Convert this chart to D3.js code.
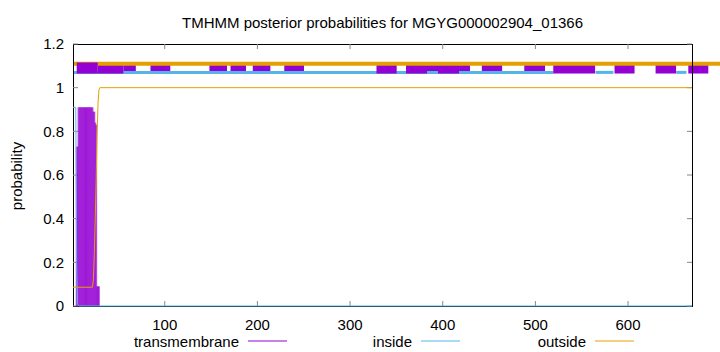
<!DOCTYPE html>
<html>
<head>
<meta charset="utf-8">
<script src="https://cdn.jsdelivr.net/npm/d3@7/dist/d3.min.js"></script>
<style>
  body { margin: 0; background: #fff; }
  text { font-family: "Liberation Sans", Arial, sans-serif; font-size: 15px; fill: #000; }
</style>
</head>
<body>
<svg id="chart" width="720" height="352"></svg>
<script>
// Posterior probabilities (only the N-terminal part is non-trivial)
const tmResidues = [1, 2, 3, 4, 5, 6, 7, 8, 9, 10, 11, 12, 13, 14, 15, 16, 17, 18, 19, 20,
                    21, 22, 23, 24, 25, 26, 27, 28, 29, 30]
const tmValues = [0, 0, 0, 0, 0.73, 0.73, 0.91, 0.91, 0.91, 0.91, 0.91, 0.91, 0.91, 0.91, 0.91, 0.91,
                  0.91, 0.91, 0.91, 0.91, 0.91, 0.91, 0.89, 0.89, 0.84, 0.83, 0.09, 0.09, 0.09, 0]
const insideResidues = [1, 4, 5, 6, 7, 669]
const insideValues = [0.91, 0.91, 0.18, 0.01, 0, 0]
const outsideResidues = [1, 22, 23, 24, 25, 26, 27, 28, 29, 30, 669]
const outsideValues = [0.086, 0.086, 0.12, 0.24, 0.4, 0.58, 0.78, 0.93, 0.99, 1.0, 1.0]

// Predicted topology drawn above the curves
const tmSegStart = [5, 27.7, 55.3, 84.6, 148.2, 171, 195, 229, 328.5, 360.4, 383, 394.9, 417.6,
                    442.2, 488, 519.3, 585.4, 629.7, 665]
const tmSegEnd = [27.7, 55.3, 68.8, 106, 167.2, 187.7, 214, 250.3, 350.3, 383, 394.9, 417.6, 429.4,
                  464.1, 510.4, 564.4, 607, 651.8, 686.6]
// 0: under both lines, 1: over inside line, 2: over both
const tmSegLayer = [2, 1, 0, 0, 0, 0, 0, 0, 1, 1, 0, 1, 0, 0, 0, 1, 1, 1, 1]
const insideSegStart = [1, 565, 652]
const insideSegEnd = [519.5, 584.2, 663]
const outsideSegStart = [1]
const outsideSegEnd = [700]

const xTicks = [100, 200, 300, 400, 500, 600]
const yTicks = [0, 0.2, 0.4, 0.6, 0.8, 1, 1.2]

const colors = { tm: "#9400d3", inside: "#56b4e9", outside: "#e69f00" }
const plotLeft = 73, plotRight = 692, plotTop = 44, plotBottom = 306

const svg = d3.select("#chart")
const x = d3.scaleLinear().domain([1, 669]).range([plotLeft, plotRight])
const y = d3.scaleLinear().domain([0, 1.2]).range([plotBottom, plotTop])

// title + axis label
svg.append("text").attr("x", (plotLeft + plotRight) / 2).attr("y", 27.5)
    .attr("text-anchor", "middle").text("TMHMM posterior probabilities for MGYG000002904_01366")
svg.append("text").attr("transform", "translate(22,176) rotate(-90)")
    .attr("text-anchor", "middle").text("probability")

// topology band
const tmSegs = tmSegStart.map((s, i) => ({ s: s, e: tmSegEnd[i], layer: tmSegLayer[i] }))
function drawBoxes(layer) {
    svg.append("g").selectAll("rect")
        .data(tmSegs.filter(d => d.layer === layer))
        .enter().append("rect")
            .attr("x", d => x(d.s))
            .attr("width", d => x(d.e) - x(d.s))
            .attr("y", y(1.09) - 5.5)
            .attr("height", 11)
            .attr("fill", colors.tm)
}
function drawSegs(starts, ends, val, color, w) {
    svg.append("g").selectAll("line")
        .data(starts.map((s, i) => [s, ends[i]]))
        .enter().append("line")
            .attr("x1", d => x(d[0])).attr("x2", d => x(d[1]))
            .attr("y1", y(val)).attr("y2", y(val))
            .attr("stroke", color).attr("stroke-width", w)
}
drawBoxes(0)
drawSegs(insideSegStart, insideSegEnd, 1.07, colors.inside, 3)
drawBoxes(1)
drawSegs(outsideSegStart, outsideSegEnd, 1.11, colors.outside, 4)
drawBoxes(2)

// frame and ticks
svg.append("rect").attr("x", plotLeft + 0.5).attr("y", plotTop + 0.5)
    .attr("width", plotRight - plotLeft).attr("height", plotBottom - plotTop)
    .attr("fill", "none").attr("stroke", "#000")

const ticks = svg.append("g").attr("stroke", "#888")
xTicks.forEach(t => {
    ticks.append("line").attr("x1", x(t)).attr("x2", x(t)).attr("y1", plotBottom).attr("y2", plotBottom - 5)
    ticks.append("line").attr("x1", x(t)).attr("x2", x(t)).attr("y1", plotTop).attr("y2", plotTop + 5)
})
yTicks.forEach(t => {
    ticks.append("line").attr("x1", plotLeft).attr("x2", plotLeft + 5).attr("y1", y(t)).attr("y2", y(t))
    ticks.append("line").attr("x1", plotRight).attr("x2", plotRight - 5).attr("y1", y(t)).attr("y2", y(t))
})
svg.append("g").selectAll("text").data(xTicks).enter().append("text")
    .attr("x", d => x(d)).attr("y", 329.5).attr("text-anchor", "middle").text(d => d)
svg.append("g").selectAll("text").data(yTicks).enter().append("text")
    .attr("x", 64).attr("y", d => y(d) + 5.3).attr("text-anchor", "end").text(d => d)

// transmembrane impulses
svg.append("g").selectAll("line")
    .data(tmResidues.map((r, i) => [r, tmValues[i]]).filter(d => d[1] > 0))
    .enter().append("line")
        .attr("x1", d => x(d[0])).attr("x2", d => x(d[0]))
        .attr("y1", y(0)).attr("y2", d => y(d[1]))
        .attr("stroke", colors.tm).attr("stroke-width", 2).attr("opacity", 0.65)

const line = d3.line().x(d => x(d[0])).y(d => y(d[1]))
svg.append("path").datum(insideResidues.map((r, i) => [r, insideValues[i]]))
    .attr("d", line).attr("fill", "none").attr("stroke", colors.inside).attr("stroke-width", 1)
svg.append("path").datum(outsideResidues.map((r, i) => [r, outsideValues[i]]))
    .attr("d", line).attr("fill", "none").attr("stroke", colors.outside).attr("stroke-width", 1)

// legend
const legend = [["transmembrane", colors.tm, 239], ["inside", colors.inside, 412], ["outside", colors.outside, 586]]
legend.forEach(l => {
    svg.append("text").attr("x", l[2]).attr("y", 346.5).attr("text-anchor", "end").text(l[0])
    svg.append("line").attr("x1", l[2] + 9).attr("x2", l[2] + 48).attr("y1", 341).attr("y2", 341)
        .attr("stroke", l[1]).attr("stroke-width", 1)
})
</script>
</body>
</html>
